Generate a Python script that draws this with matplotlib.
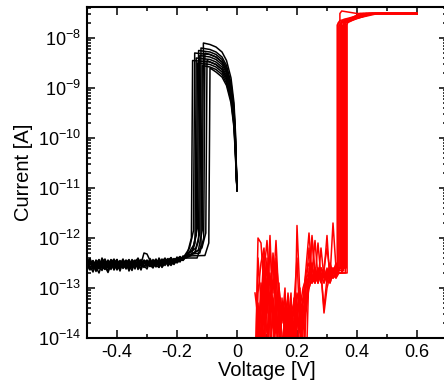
import numpy as np
import matplotlib
matplotlib.use("Agg")
import matplotlib.pyplot as plt
from matplotlib.ticker import FixedLocator, LogLocator, NullFormatter, LogFormatterSciNotation

plt.rcParams['font.family'] = ['Liberation Sans', 'DejaVu Sans']
plt.rcParams['mathtext.fontset'] = 'custom'
plt.rcParams['mathtext.rm'] = 'Liberation Sans'
plt.rcParams['mathtext.it'] = 'Liberation Sans:italic'
plt.rcParams['mathtext.default'] = 'regular'
plt.rcParams['axes.unicode_minus'] = False

# ---------------- data (log10 of current in A) ----------------
x_major_ticks = [-0.4, -0.2, 0.0, 0.2, 0.4, 0.6]
x_minor_ticks = [-0.5, -0.3, -0.1, 0.1, 0.3, 0.5]
y_major_ticks = [1e-14, 1e-13, 1e-12, 1e-11, 1e-10, 1e-9, 1e-8]

# black sweeps: baseline on a uniform voltage grid
black_base_v = [-0.50, -0.49, -0.48, -0.47, -0.46, -0.45, -0.44, -0.43, -0.42, -0.41,
                -0.40, -0.39, -0.38, -0.37, -0.36, -0.35, -0.34, -0.33, -0.32, -0.31,
                -0.30, -0.29, -0.28, -0.27, -0.26, -0.25, -0.24, -0.23, -0.22, -0.21,
                -0.20, -0.19, -0.18, -0.17]
black_base = [
    [-12.55, -12.42, -12.63, -12.48, -12.58, -12.40, -12.52, -12.66, -12.47, -12.55, -12.43, -12.60, -12.50, -12.45, -12.58, -12.49, -12.62, -12.44, -12.53, -12.48, -12.57, -12.41, -12.52, -12.47, -12.55, -12.43, -12.50, -12.46, -12.39, -12.48, -12.42, -12.37, -12.44, -12.35],
    [-12.48, -12.60, -12.50, -12.67, -12.45, -12.55, -12.61, -12.44, -12.58, -12.49, -12.64, -12.52, -12.42, -12.57, -12.50, -12.60, -12.46, -12.55, -12.43, -12.59, -12.48, -12.53, -12.45, -12.56, -12.40, -12.51, -12.47, -12.53, -12.44, -12.49, -12.38, -12.46, -12.40, -12.36],
    [-12.62, -12.51, -12.45, -12.58, -12.70, -12.52, -12.47, -12.59, -12.50, -12.42, -12.56, -12.48, -12.61, -12.53, -12.44, -12.57, -12.49, -12.40, -12.52, -12.30, -12.32, -12.45, -12.58, -12.47, -12.51, -12.42, -12.55, -12.44, -12.50, -12.41, -12.47, -12.43, -12.38, -12.40],
    [-12.45, -12.56, -12.68, -12.52, -12.43, -12.60, -12.54, -12.48, -12.63, -12.46, -12.52, -12.57, -12.45, -12.50, -12.62, -12.47, -12.53, -12.58, -12.46, -12.51, -12.44, -12.56, -12.49, -12.42, -12.53, -12.47, -12.40, -12.52, -12.45, -12.43, -12.48, -12.39, -12.42, -12.33],
    [-12.58, -12.47, -12.54, -12.62, -12.50, -12.46, -12.57, -12.69, -12.53, -12.48, -12.60, -12.45, -12.55, -12.49, -12.66, -12.52, -12.46, -12.54, -12.60, -12.47, -12.53, -12.49, -12.58, -12.44, -12.50, -12.55, -12.46, -12.41, -12.52, -12.45, -12.40, -12.47, -12.36, -12.38],
    [-12.42, -12.53, -12.47, -12.55, -12.61, -12.48, -12.42, -12.56, -12.50, -12.63, -12.47, -12.54, -12.58, -12.44, -12.52, -12.48, -12.57, -12.51, -12.64, -12.46, -12.50, -12.57, -12.43, -12.52, -12.47, -12.59, -12.49, -12.44, -12.48, -12.53, -12.42, -12.45, -12.40, -12.37],
    [-12.60, -12.50, -12.58, -12.44, -12.53, -12.65, -12.50, -12.46, -12.54, -12.59, -12.45, -12.51, -12.47, -12.62, -12.55, -12.43, -12.50, -12.59, -12.48, -12.55, -12.62, -12.46, -12.51, -12.58, -12.45, -12.50, -12.43, -12.56, -12.47, -12.42, -12.50, -12.44, -12.41, -12.35],
    [-12.51, -12.64, -12.49, -12.55, -12.47, -12.57, -12.62, -12.51, -12.44, -12.56, -12.50, -12.66, -12.48, -12.54, -12.46, -12.58, -12.52, -12.47, -12.56, -12.44, -12.49, -12.54, -12.60, -12.48, -12.53, -12.45, -12.52, -12.48, -12.55, -12.46, -12.41, -12.48, -12.37, -12.40],
    [-12.65, -12.52, -12.46, -12.59, -12.51, -12.56, -12.45, -12.60, -12.55, -12.50, -12.43, -12.58, -12.52, -12.61, -12.48, -12.54, -12.44, -12.63, -12.50, -12.45, -12.56, -12.51, -12.47, -12.54, -12.59, -12.46, -12.52, -12.49, -12.45, -12.51, -12.46, -12.42, -12.45, -12.38],
    [-12.47, -12.41, -12.57, -12.50, -12.62, -12.45, -12.58, -12.53, -12.47, -12.64, -12.52, -12.46, -12.55, -12.50, -12.43, -12.59, -12.54, -12.48, -12.52, -12.58, -12.45, -12.50, -12.56, -12.46, -12.49, -12.53, -12.48, -12.45, -12.40, -12.47, -12.44, -12.38, -12.43, -12.34],
    [-12.53, -12.46, -12.60, -12.52, -12.44, -12.57, -12.63, -12.49, -12.55, -12.45, -12.61, -12.50, -12.56, -12.47, -12.53, -12.65, -12.48, -12.42, -12.55, -12.50, -12.46, -12.57, -12.52, -12.44, -12.58, -12.49, -12.45, -12.51, -12.43, -12.46, -12.40, -12.44, -12.37, -12.39],
    [-12.59, -12.48, -12.52, -12.64, -12.55, -12.47, -12.53, -12.58, -12.43, -12.51, -12.57, -12.62, -12.46, -12.52, -12.59, -12.45, -12.50, -12.56, -12.61, -12.49, -12.52, -12.44, -12.55, -12.50, -12.46, -12.57, -12.51, -12.47, -12.42, -12.50, -12.45, -12.39, -12.41, -12.36],
]
black_vsw = [-0.152, -0.145, -0.140, -0.136, -0.132, -0.128, -0.124, -0.120, -0.116, -0.111, -0.104, -0.094]
black_knee_mid = [-12.30, -12.20, -12.35, -12.25, -12.15, -12.30, -12.20, -12.40, -12.25, -12.30, -12.20, -12.35]
black_knee = [-12.00, -11.85, -12.10, -11.95, -11.80, -12.05, -11.90, -12.15, -11.85, -12.00, -11.90, -12.10]
black_peak = [-8.45, -8.30, -8.40, -8.50, -8.25, -8.35, -8.20, -8.55, -8.10, -8.30, -8.45, -8.60]
arc_v = [-0.09, -0.07, -0.05, -0.035, -0.02, -0.01, -0.005]
arc_drop = [-0.03, -0.08, -0.18, -0.35, -0.70, -1.20, -1.80]
black_end_v = 0.0
black_end = -11.05

# red sweeps
red_low_v = [0.06, 0.07, 0.08, 0.09, 0.10, 0.11, 0.12, 0.13, 0.14, 0.15, 0.16, 0.17, 0.18, 0.19,
             0.20, 0.21, 0.22, 0.23, 0.24, 0.25, 0.26, 0.27, 0.28, 0.29, 0.30, 0.31, 0.32, 0.33, 0.34]
red_low = [
    [-15.0, -12.0, -12.1, -13.0, -12.6, -13.4, -14.6, -13.2, -13.6, -14.8, -13.8, -13.5, -14.9, -13.7, -13.1, -13.4, -13.0, -12.8, -12.7, -12.9, -12.6, -12.8, -12.7, -12.9, -12.7, -12.6, -12.8, -12.7, -12.6],
    [-15.0, -13.1, -12.5, -12.2, -13.2, -11.95, -13.6, -14.7, -13.5, -13.9, -14.9, -13.8, -13.6, -14.8, -11.75, -13.2, -13.5, -13.0, -12.2, -12.9, -12.8, -12.7, -12.9, -12.6, -12.8, -12.75, -12.7, -12.6, -12.55],
    [-15.0, -14.8, -13.3, -12.7, -12.05, -13.0, -12.5, -13.4, -14.6, -13.4, -13.7, -14.9, -13.9, -13.2, -14.7, -14.9, -13.3, -12.9, -12.8, -11.95, -12.7, -12.85, -12.6, -12.8, -12.7, -12.9, -12.7, -12.65, -12.6],
    [-15.0, -13.5, -14.8, -13.1, -13.4, -12.2, -13.1, -12.05, -13.3, -14.6, -13.3, -13.9, -14.8, -14.5, -13.6, -13.0, -14.8, -13.5, -12.9, -12.7, -12.05, -12.8, -12.7, -13.4, -12.8, -12.7, -12.6, -12.7, -12.65],
    [-15.0, -14.0, -13.0, -13.6, -12.8, -13.5, -12.3, -13.0, -14.8, -13.2, -14.0, -13.4, -14.8, -13.6, -14.3, -13.5, -14.9, -13.0, -12.7, -12.6, -12.8, -12.1, -12.8, -12.7, -12.9, -12.6, -12.8, -12.7, -12.6],
    [-15.0, -14.8, -13.8, -12.9, -13.5, -12.7, -13.6, -12.4, -13.1, -13.7, -13.0, -14.7, -13.6, -13.9, -13.2, -14.8, -13.9, -12.8, -13.0, -12.8, -12.6, -12.9, -12.2, -12.8, -12.7, -12.8, -11.7, -12.6, -12.7],
    [-13.1, -13.6, -14.6, -13.4, -14.8, -13.0, -13.8, -13.5, -12.9, -14.7, -13.5, -13.2, -14.0, -13.4, -13.7, -13.1, -13.3, -12.6, -11.9, -12.75, -12.9, -12.7, -12.8, -12.6, -12.2, -12.7, -12.8, -12.6, -12.7],
    [-15.0, -13.9, -13.2, -14.1, -13.0, -14.6, -13.3, -13.9, -13.4, -13.6, -13.2, -13.8, -13.1, -14.8, -13.5, -13.2, -14.7, -13.2, -12.85, -12.0, -12.8, -12.6, -12.85, -12.7, -11.95, -12.9, -12.7, -12.5, -12.65],
    [-15.0, -12.4, -13.3, -12.3, -13.7, -14.6, -13.2, -13.7, -14.4, -13.3, -13.9, -13.1, -13.8, -13.3, -12.4, -13.8, -14.9, -14.8, -12.6, -12.9, -12.7, -12.9, -12.7, -13.5, -13.0, -12.75, -12.6, -12.8, -12.6],
    [-15.0, -14.3, -14.0, -13.3, -13.9, -13.3, -14.7, -13.6, -13.9, -14.8, -13.5, -13.9, -13.4, -14.0, -13.6, -14.2, -13.7, -13.4, -13.0, -12.8, -12.9, -12.7, -12.6, -12.8, -12.7, -12.6, -12.75, -12.8, -12.7],
    [-15.0, -14.9, -12.9, -13.5, -12.4, -13.9, -14.8, -12.6, -13.8, -14.2, -14.8, -13.3, -14.0, -14.9, -13.4, -13.9, -13.2, -12.7, -12.5, -12.8, -12.65, -12.9, -12.6, -12.7, -12.85, -12.5, -12.7, -12.75, -12.6],
    [-15.0, -13.3, -14.1, -12.6, -14.6, -13.1, -13.4, -14.8, -13.0, -13.5, -13.6, -14.8, -13.3, -13.5, -14.6, -13.3, -13.6, -13.3, -12.75, -12.5, -12.9, -12.6, -12.75, -12.9, -12.6, -12.8, -12.65, -12.55, -12.7],
]
red_vset = [0.334, 0.337, 0.340, 0.343, 0.346, 0.349, 0.352, 0.355, 0.358, 0.361, 0.364, 0.367]
red_post = [-7.74, -7.70, -7.76, -7.51, -7.72, -7.68, -7.75, -7.71, -7.73, -7.69, -7.74, -7.70]
red_vcomp = [0.44, 0.46, 0.42, 0.40, 0.47, 0.43, 0.45, 0.41, 0.44, 0.46, 0.43, 0.45]
red_comp = -7.51
red_end_v = 0.60

# ---------------- figure ----------------
fig = plt.figure(figsize=(4.44, 3.82), dpi=100)
ax = fig.add_axes([87 / 444, 44 / 382, 360 / 444, 331 / 382])

for i in range(len(black_base)):
    vsw = black_vsw[i]
    xs, ys = [], []
    for v, y in zip(black_base_v, black_base[i]):
        if v < vsw - 0.026:
            xs.append(v); ys.append(y)
    xs += [vsw - 0.013, vsw, vsw + 0.004]
    ys += [black_knee_mid[i], black_knee[i], black_peak[i]]
    for v, d in zip(arc_v, arc_drop):
        if v > vsw + 0.006:
            xs.append(v); ys.append(black_peak[i] + d)
    xs.append(black_end_v); ys.append(black_end)
    ax.plot(xs, 10.0 ** np.array(ys), color='black', lw=1.1, zorder=3)

for i in range(len(red_low)):
    vs = red_vset[i]
    xs, ys = [], []
    for v, y in zip(red_low_v, red_low[i]):
        if v < vs:
            xs.append(v); ys.append(y)
    xs += [vs, vs, vs + 0.006, red_vcomp[i], red_end_v]
    ys += [ys[-1], red_post[i], red_post[i] + 0.05, red_comp, red_comp]
    ax.plot(xs, 10.0 ** np.array(ys), color='#ff0000', lw=1.1, zorder=2)

ax.set_yscale('log')
ax.set_xlim(-0.5, 0.7)
ax.set_ylim(1e-14, 10 ** -7.38)
ax.xaxis.set_major_locator(FixedLocator(x_major_ticks))
ax.xaxis.set_minor_locator(FixedLocator(x_minor_ticks))
ax.yaxis.set_major_locator(FixedLocator(y_major_ticks))
ax.yaxis.set_major_formatter(LogFormatterSciNotation())
ax.yaxis.set_minor_locator(LogLocator(base=10, subs=np.arange(2, 10), numticks=20))
ax.yaxis.set_minor_formatter(NullFormatter())
ax.xaxis.set_major_formatter(plt.FuncFormatter(lambda v, p: '0' if abs(v) < 1e-9 else f'{v:.1f}'))

ax.tick_params(which='both', direction='in', top=True, right=True, width=1.1)
ax.tick_params(which='major', length=6, labelsize=13, pad=4)
ax.tick_params(which='minor', length=3)
for s in ax.spines.values():
    s.set_linewidth(1.5)

ax.set_xlabel('Voltage [V]', fontsize=14.5, labelpad=0)
ax.set_ylabel('Current [A]', fontsize=14.5, labelpad=4)

fig.savefig('out.png', dpi=100)
